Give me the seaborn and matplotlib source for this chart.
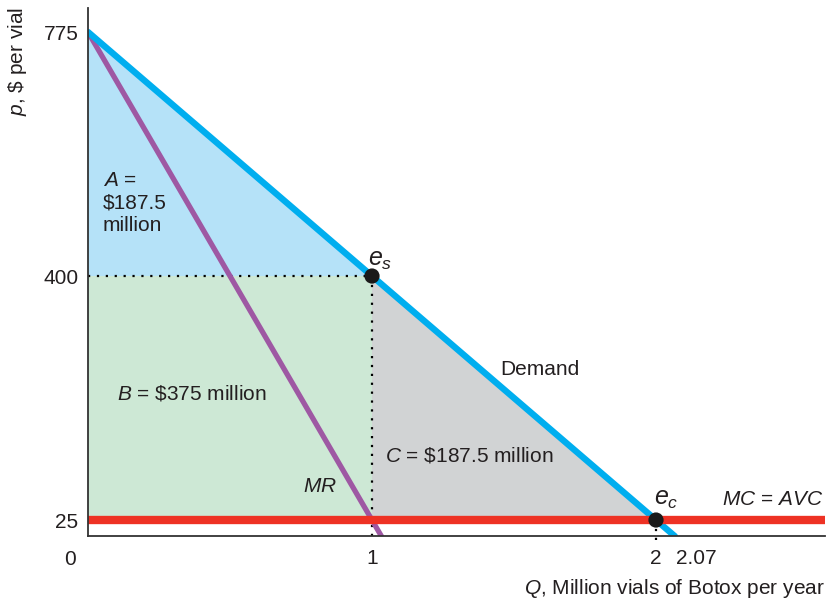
import matplotlib
matplotlib.use("Agg")
import matplotlib.pyplot as plt
import seaborn as sns
import pandas as pd
import numpy as np

# ---- data ----
demand_q = [0.0, 2.0667]
demand_p = [775, 0]
mr_q = [0.0, 1.0333]
mr_p = [775, 0]
mc_q = [0.0, 2.6]
mc_p = [25, 25]
area_a_q = [0, 0, 1]
area_a_p = [775, 400, 400]
area_b_q = [0, 1, 1, 0]
area_b_p = [25, 25, 400, 400]
area_c_q = [1, 1, 2]
area_c_p = [400, 25, 25]
eq_q = [1, 2]
eq_p = [400, 25]
y_ticks = [25, 400, 775]
x_ticks = [1, 2, 2.07]
x_tick_labels = ["1", "2", "2.07"]

sns.set_theme(style="white")
plt.rcParams["font.family"] = ["Liberation Sans", "DejaVu Sans"]
plt.rcParams["mathtext.fontset"] = "custom"
plt.rcParams["mathtext.it"] = "Liberation Sans:italic"
plt.rcParams["mathtext.rm"] = "Liberation Sans"

fig = plt.figure(figsize=(8.33, 6.02), dpi=100)
ax = fig.add_axes([88/833, 1-536.3/602, (825-88)/833, (536.3-8)/602])
ax.set_xlim(0, (825-88)/284)
ax.set_ylim(0, (536.3-8)/0.6507)

c_blue_fill = "#b5e2f8"
c_green_fill = "#cde8d5"
c_gray_fill = "#d1d3d4"
c_blue = "#00aeef"
c_purple = "#9e58a3"
c_red = "#ee3224"
txt = "#231f20"

ax.fill(area_a_q, area_a_p, color=c_blue_fill, lw=0, zorder=1)
ax.fill(area_b_q, area_b_p, color=c_green_fill, lw=0, zorder=1)
ax.fill(area_c_q, area_c_p, color=c_gray_fill, lw=0, zorder=1)

# dotted lines
ax.plot([0, 1], [400, 400], ls=(0, (1, 3)), color="black", lw=1.6, zorder=2)
ax.plot([1, 1], [400, 0], ls=(0, (1, 3)), color="black", lw=1.6, zorder=2)
ax.plot([2, 2], [25, -15], ls=(0, (1, 3)), color="black", lw=1.6, zorder=2, clip_on=False)

sns.lineplot(x=mr_q, y=mr_p, color=c_purple, lw=3.8, ax=ax, zorder=3)
sns.lineplot(x=demand_q, y=demand_p, color=c_blue, lw=4.6, ax=ax, zorder=4)
sns.lineplot(x=mc_q, y=mc_p, color=c_red, lw=6, ax=ax, zorder=5)
sns.scatterplot(x=eq_q, y=eq_p, color="#1a1a1a", s=120, ax=ax, zorder=6, edgecolor="none")

fs = 15
ax.text(0.053, 512, "$A$ =\n\$187.5\nmillion", fontsize=fs, color=txt, ha="left", va="center", linespacing=1.24)
ax.text(0.102, 220, "$B$ = \$375 million", fontsize=fs, color=txt, ha="left", va="center")
ax.text(1.046, 123.5, "$C$ = \$187.5 million", fontsize=fs, color=txt, ha="left", va="center")
ax.text(1.451, 257, "Demand", fontsize=fs, color=txt, ha="left", va="center")
ax.text(0.757, 76, "$MR$", fontsize=fs, color=txt, ha="left", va="center")
ax.text(2.588, 48, "$MC$ = $AVC$", fontsize=fs, color=txt, ha="right", va="baseline")
ax.text(0.986, 415, "$e_s$", fontsize=fs + 3, color=txt, ha="left", va="baseline")
ax.text(1.993, 48, "$e_c$", fontsize=fs + 3, color=txt, ha="left", va="baseline")

ax.set_yticks(y_ticks)
ax.set_yticklabels([str(v) for v in y_ticks], fontsize=fs, color=txt)
ax.set_xticks(x_ticks)
ax.set_xticklabels(x_tick_labels, fontsize=fs, color=txt)
ax.tick_params(axis="both", length=0)
ax.tick_params(axis="y", pad=7)
ax.tick_params(axis="x", pad=9)
lbls = ax.get_xticklabels()
lbls[2].set_horizontalalignment("left")
ax.text(-0.063, -36, "0", fontsize=fs, color=txt, ha="center", va="center", clip_on=False)

for s in ["top", "right"]:
    ax.spines[s].set_visible(False)
for s in ["left", "bottom"]:
    ax.spines[s].set_color("#333333")
    ax.spines[s].set_linewidth(1.3)
    ax.spines[s].set_zorder(7)

fig.text(18/833, 1-61/602, "$p$, \$ per vial", rotation=90, fontsize=fs, color=txt, ha="center", va="center")
fig.text(825/833, 1-588/602, "$Q$, Million vials of Botox per year", fontsize=fs, color=txt, ha="right", va="center")

fig.savefig("out.png", dpi=100)
